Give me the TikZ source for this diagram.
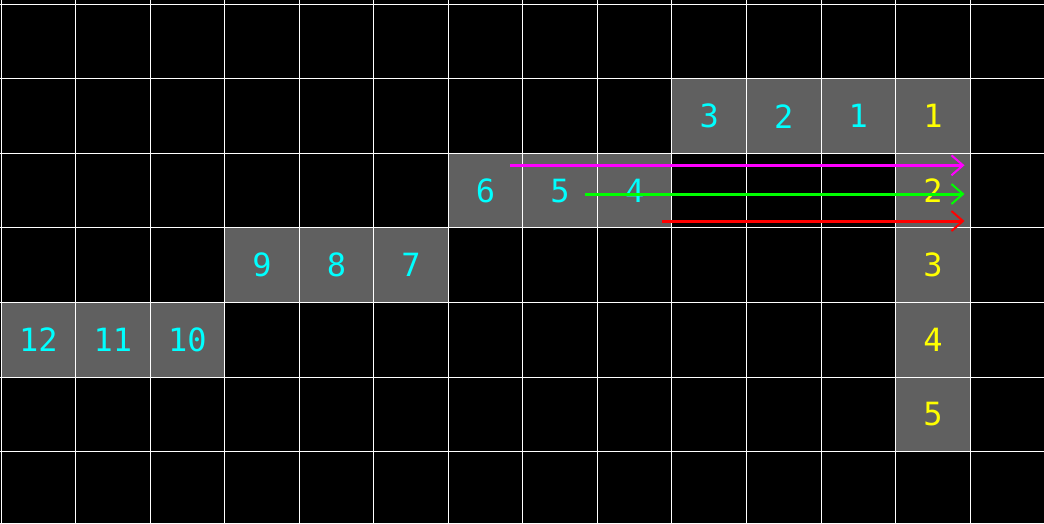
\documentclass[tikz,border=0pt]{standalone}
\usepackage{fontspec}
\setmonofont{DejaVu Sans Mono}
\usetikzlibrary{arrows.meta}
\definecolor{cellgrey}{HTML}{606060}
\definecolor{cyanD}{HTML}{00FFFF}
\definecolor{yellowD}{HTML}{FFFF00}
\definecolor{magD}{HTML}{FF00FF}
\definecolor{greenD}{HTML}{00FF00}
\definecolor{redD}{HTML}{FF0000}
\tikzset{
  cellbox/.style={fill=cellgrey, draw=none, minimum width=74.55pt, minimum height=74.55pt, inner sep=0pt,
    font=\ttfamily\fontsize{32}{32}\selectfont},
  cyancell/.style={cellbox, text=cyanD},
  yellowcell/.style={cellbox, text=yellowD},
  gridline/.style={white, line width=1pt},
  movearrow/.style={line width=3pt, -{Straight Barb[length=11.5pt, width=20pt, line width=2pt]}},
}
\newcommand{\cx}[1]{\fpeval{1+(#1+0.5)*74.55}}
\newcommand{\cy}[1]{\fpeval{4.3+(#1+0.5)*74.55}}
\begin{document}
\begin{tikzpicture}[x=1pt,y=-1pt]
\useasboundingbox (0,0) rectangle (1044,523);
\fill[black] (0,0) rectangle (1044,523);
% row 1
\node[cyancell]   (r1c9)  at (\cx{9},\cy{1})  {3};
\node[cyancell]   (r1c10) at (\cx{10},\cy{1}) {2};
\node[cyancell]   (r1c11) at (\cx{11},\cy{1}) {1};
\node[yellowcell] (r1c12) at (\cx{12},\cy{1}) {1};
% row 2
\node[cyancell]   (r2c6)  at (\cx{6},\cy{2})  {6};
\node[cyancell]   (r2c7)  at (\cx{7},\cy{2})  {5};
\node[cyancell]   (r2c8)  at (\cx{8},\cy{2})  {4};
\node[yellowcell] (r2c12) at (\cx{12},\cy{2}) {2};
% row 3
\node[cyancell]   (r3c3)  at (\cx{3},\cy{3})  {9};
\node[cyancell]   (r3c4)  at (\cx{4},\cy{3})  {8};
\node[cyancell]   (r3c5)  at (\cx{5},\cy{3})  {7};
\node[yellowcell] (r3c12) at (\cx{12},\cy{3}) {3};
% row 4
\node[cyancell]   (r4c0)  at (\cx{0},\cy{4})  {12};
\node[cyancell]   (r4c1)  at (\cx{1},\cy{4})  {11};
\node[cyancell]   (r4c2)  at (\cx{2},\cy{4})  {10};
\node[yellowcell] (r4c12) at (\cx{12},\cy{4}) {4};
% row 5
\node[yellowcell] (r5c12) at (\cx{12},\cy{5}) {5};
% grid
\foreach \k in {0,...,13} {
  \draw[gridline] ({1+\k*74.55},0) -- ({1+\k*74.55},523);
}
\foreach \k in {0,...,6} {
  \draw[gridline] (0,{4.3+\k*74.55}) -- (1044,{4.3+\k*74.55});
}
% arrows
\coordinate (ms) at (510,165.3);
\coordinate (me) at (964.5,165.3);
\coordinate (gs) at (585,194);
\coordinate (ge) at (964.5,194);
\coordinate (rs) at (662,221);
\coordinate (re) at (964.5,221);
\draw[movearrow, magD] (ms) -- (me);
\draw[movearrow, greenD] (gs) -- (ge);
\draw[movearrow, redD] (rs) -- (re);
\end{tikzpicture}
\end{document}
